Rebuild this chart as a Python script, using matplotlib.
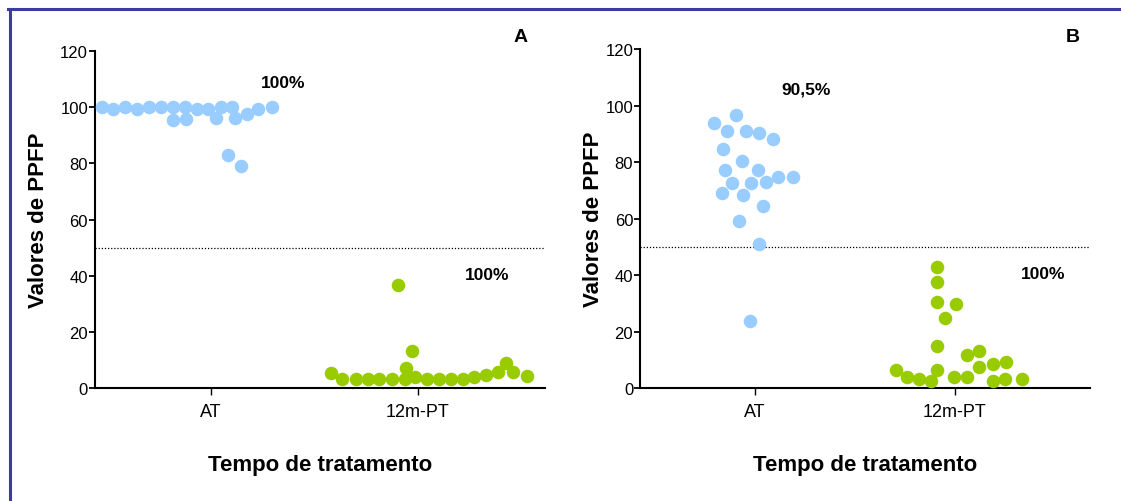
import matplotlib.pyplot as plt
from matplotlib.lines import Line2D

plt.rcParams['font.family'] = ['Liberation Sans', 'DejaVu Sans']

categories = ['AT', '12m-PT']

# panel A, pre-treatment (AT): x position in category units, PPFP value
a_at_x = [0.472, 0.528, 0.585, 0.644, 0.702, 0.758, 0.818, 0.818, 0.874, 0.879, 0.931,
          0.987, 1.023, 1.047, 1.103, 1.116, 1.175, 1.229, 1.296, 1.084, 1.145]
a_at_y = [100, 99.4, 100, 99.4, 100, 100, 100, 95.4, 100, 96, 99.4,
          99.4, 96.1, 100, 100, 96.1, 97.6, 99.4, 100, 83, 79]
# panel A, 12 months post-treatment
a_pt_x = [1.578, 1.631, 1.700, 1.757, 1.813, 1.876, 1.937, 1.942, 1.971, 1.905, 1.986,
          2.042, 2.100, 2.159, 2.216, 2.272, 2.329, 2.388, 2.424, 2.460, 2.525]
a_pt_y = [5.2, 3.2, 3.2, 3.2, 3.2, 3.2, 3.2, 7.1, 13.1, 36.7, 3.8,
          3.2, 3.2, 3.2, 3.2, 4.0, 4.6, 5.8, 9.1, 5.8, 4.4]

# panel B
b_at_x = [0.797, 0.904, 0.859, 0.955, 1.022, 1.092, 0.842, 0.934, 0.850, 1.017, 0.887,
          0.979, 1.055, 1.114, 1.190, 0.835, 0.942, 1.039, 0.919, 1.022, 0.977]
b_at_y = [94.0, 96.7, 90.9, 90.9, 90.2, 88.1, 84.8, 80.4, 77.1, 77.1, 72.5,
          72.5, 73.0, 74.9, 74.9, 69.1, 68.3, 64.5, 59.1, 51.0, 23.6]
b_pt_x = [1.912, 1.912, 1.912, 2.008, 1.950, 1.912, 1.708, 1.762, 1.820, 1.883, 1.912,
          1.995, 2.062, 2.062, 2.122, 2.122, 2.192, 2.192, 2.258, 2.252, 2.335]
b_pt_y = [42.7, 37.4, 30.3, 29.6, 24.9, 15.0, 6.5, 4.0, 3.2, 2.5, 6.5,
          4.0, 4.0, 11.8, 13.2, 7.3, 8.5, 2.5, 9.1, 3.2, 3.2]

cutoff = 50
a_notes = ['100%', '100%']
b_notes = ['90,5%', '100%']

blue = '#99ccff'
green = '#99cc00'

fig = plt.figure(figsize=(11.21, 5.02), dpi=100)

# blue frame (only left and top edges visible)
fig.add_artist(Line2D([0.0085, 0.0085], [0, 0.98], transform=fig.transFigure,
                      color='#3c3ca0', lw=2.2))
fig.add_artist(Line2D([0.0075, 1.0], [0.98, 0.98], transform=fig.transFigure,
                      color='#3c3ca0', lw=2.2))


def panel(rect, xlim, at_x, at_y, pt_x, pt_y, notes, note_pos, letter, letter_pos, ypad):
    ax = fig.add_axes(rect)
    ax.scatter(at_x, at_y, s=95, color=blue, linewidths=0, zorder=3, clip_on=False)
    ax.scatter(pt_x, pt_y, s=95, color=green, linewidths=0, zorder=3, clip_on=False)
    ax.axhline(cutoff, color='black', lw=0.9, ls=(0, (1, 1.5)), zorder=1)
    ax.set_xlim(*xlim)
    ax.set_ylim(0, 120)
    ax.set_yticks(range(0, 121, 20))
    ax.set_xticks([1, 2])
    ax.set_xticklabels(categories)
    ax.spines['top'].set_visible(False)
    ax.spines['right'].set_visible(False)
    ax.spines['left'].set_linewidth(1.5)
    ax.spines['bottom'].set_linewidth(1.5)
    ax.tick_params(axis='y', length=4, width=1.3, labelsize=12, pad=1)
    ax.tick_params(axis='x', length=5, width=1.0, labelsize=13, pad=6)
    ax.set_ylabel('Valores de PPFP', fontsize=16, fontweight='bold', labelpad=ypad)
    ax.set_xlabel('Tempo de tratamento', fontsize=16, fontweight='bold', labelpad=24)
    for txt, (x, y) in zip(notes, note_pos):
        ax.text(x, y, txt, fontsize=12.5, fontweight='bold', ha='center', va='center')
    ax.text(letter_pos[0], letter_pos[1], letter, fontsize=14, fontweight='bold',
            ha='center', va='center')
    return ax


panel([0.0847, 0.225, 0.4015, 0.671], (0.44, 2.614), a_at_x, a_at_y, a_pt_x, a_pt_y,
      a_notes, [(1.348, 109), (2.333, 40.6)], 'A', (2.498, 125.4), 8)
panel([0.571, 0.225, 0.401, 0.675], (0.425, 2.675), b_at_x, b_at_y, b_pt_x, b_pt_y,
      b_notes, [(1.255, 105.8), (2.44, 40.4)], 'B', (2.59, 124.6), 1)

fig.savefig('out.png', dpi=100)
